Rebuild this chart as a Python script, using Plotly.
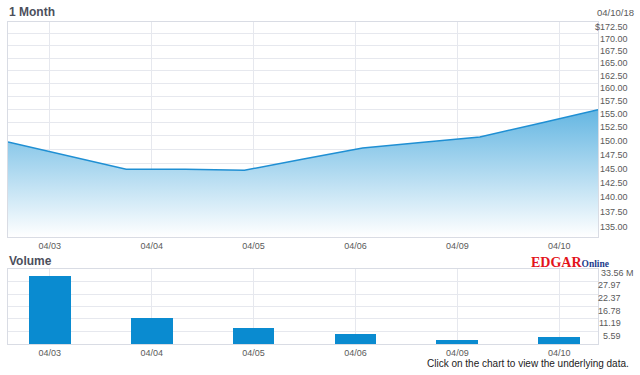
import math
import plotly.graph_objects as go

# ---- data ----
dates = ["04/03", "04/04", "04/05", "04/06", "04/09", "04/10"]
day_pos = [0, 1, 2, 3, 4, 5]

# price samples (x in trading-day units, 0 = 04/03)
price_x = [-0.41, 0.17, 0.75, 1.33, 1.91, 2.49, 3.07, 3.64, 4.22, 4.80, 5.38]
price_y = [148.9, 146.4, 144.0, 144.0, 143.8, 145.8, 147.8, 148.8, 149.8, 152.3, 154.9]

price_ticks = [135.0, 137.5, 140.0, 142.5, 145.0, 147.5, 150.0, 152.5, 155.0,
               157.5, 160.0, 162.5, 165.0, 167.5, 170.0, 172.5]
price_tick_text = ["135.00", "137.50", "140.00", "142.50", "145.00", "147.50",
                   "150.00", "152.50", "155.00", "157.50", "160.00", "162.50",
                   "165.00", "167.50", "170.00", "$172.50"]
price_floor = 132.5

volume_m = [30.4, 11.8, 7.3, 4.3, 1.8, 3.1]
volume_ticks = [5.59, 11.19, 16.78, 22.37, 27.97, 33.56]
volume_tick_text = ["5.59", "11.19", "16.78", "22.37", "27.97", "33.56 M"]

# ---- layout constants (pixels) ----
W, H = 640, 375
def px_x(p): return p / W
def px_y(p): return 1 - p / H

FONT = "Liberation Sans, Arial, sans-serif"
GRID = "#e6e8ee"
BORDER = "#d9dce4"
TICKC = "#5a5a5a"

fig = go.Figure()

# baseline for the area fill
fig.add_trace(go.Scatter(x=price_x, y=[price_floor] * len(price_x), mode="lines",
                         line=dict(width=0), hoverinfo="skip", showlegend=False,
                         xaxis="x", yaxis="y"))
fig.add_trace(go.Scatter(x=price_x, y=price_y, mode="lines",
                         line=dict(color="#1f8fd3", width=1.5),
                         fill="tonexty",
                         fillgradient=dict(type="vertical",
                                           colorscale=[[0, "rgba(255,255,255,1)"],
                                                       [1, "rgb(100,182,226)"]]),
                         showlegend=False, xaxis="x", yaxis="y"))

fig.add_trace(go.Bar(x=day_pos, y=volume_m, width=0.41,
                     marker=dict(color="#0a8bd0", line=dict(width=0)),
                     showlegend=False, xaxis="x2", yaxis="y2"))

xr = [price_x[0], price_x[-1]]
common_x = dict(range=xr, tickmode="array", tickvals=day_pos, ticktext=dates,
                showgrid=True, gridcolor=GRID, gridwidth=1, zeroline=False,
                showline=True, linecolor=BORDER, mirror=True, ticks="",
                tickfont=dict(family=FONT, size=9, color=TICKC))

fig.update_layout(
    width=W, height=H, margin=dict(l=0, r=0, t=0, b=0),
    paper_bgcolor="white", plot_bgcolor="white",
    xaxis=dict(domain=[px_x(8), px_x(598)], anchor="y", **common_x),
    yaxis=dict(domain=[px_y(237), px_y(22)], type="log",
               range=[math.log10(price_floor), math.log10(172.5)],
               tickmode="array", tickvals=price_ticks, showticklabels=False,
               showgrid=True, gridcolor=GRID, zeroline=False,
               showline=True, linecolor=BORDER, mirror=True, side="right"),
    xaxis2=dict(domain=[px_x(8), px_x(598)], anchor="y2", **common_x),
    yaxis2=dict(domain=[px_y(344), px_y(269)], range=[0, 33.56],
                tickmode="array", tickvals=volume_ticks, showticklabels=False,
                showgrid=True, gridcolor=GRID, zeroline=False,
                showline=True, linecolor=BORDER, mirror=True, side="right"),
    bargap=0,
)

ann = []
for v, t in zip(price_ticks, price_tick_text):
    ann.append(dict(xref="paper", yref="y", x=px_x(630), y=math.log10(v), text=t,
                    xanchor="right", yanchor="middle", yshift=-5, showarrow=False,
                    font=dict(family=FONT, size=9, color=TICKC)))
for v, t in zip(volume_ticks, volume_tick_text):
    if t.endswith("M"):
        ann.append(dict(xref="paper", yref="y2", x=px_x(599), y=v, text=t,
                        xanchor="left", yanchor="middle", yshift=-4, showarrow=False,
                        font=dict(family=FONT, size=9, color=TICKC)))
    else:
        ann.append(dict(xref="paper", yref="y2", x=px_x(623), y=v, text=t,
                        xanchor="right", yanchor="middle", yshift=-4, showarrow=False,
                        font=dict(family=FONT, size=9, color=TICKC)))

ann += [
    dict(xref="paper", yref="paper", x=px_x(7), y=px_y(12), text="<b>1 Month</b>",
         xanchor="left", yanchor="middle", showarrow=False,
         font=dict(family=FONT, size=12, color="#4c4f5c")),
    dict(xref="paper", yref="paper", x=px_x(7), y=px_y(261), text="<b>Volume</b>",
         xanchor="left", yanchor="middle", showarrow=False,
         font=dict(family=FONT, size=12, color="#4c4f5c")),
    dict(xref="paper", yref="paper", x=px_x(636), y=px_y(12), text="04/10/18",
         xanchor="right", yanchor="middle", showarrow=False,
         font=dict(family=FONT, size=9.5, color=TICKC)),
    dict(xref="paper", yref="paper", x=px_x(611), y=px_y(262),
         text="<b><span style='color:#e3141c'>EDGAR</span>"
              "<span style='font-size:9.5px;color:#1c3c8c'>Online</span></b>",
         xanchor="right", yanchor="middle", showarrow=False,
         font=dict(family="Liberation Serif, Times New Roman, serif", size=14)),
    dict(xref="paper", yref="paper", x=px_x(631), y=px_y(363),
         text="Click on the chart to view the underlying data.",
         xanchor="right", yanchor="middle", showarrow=False,
         font=dict(family=FONT, size=10, color="#222222")),
]
fig.update_layout(annotations=ann)

fig.write_html("out.html", config={"displayModeBar": False},
               post_script="document.body.style.margin='0';document.body.style.overflow='hidden';")
